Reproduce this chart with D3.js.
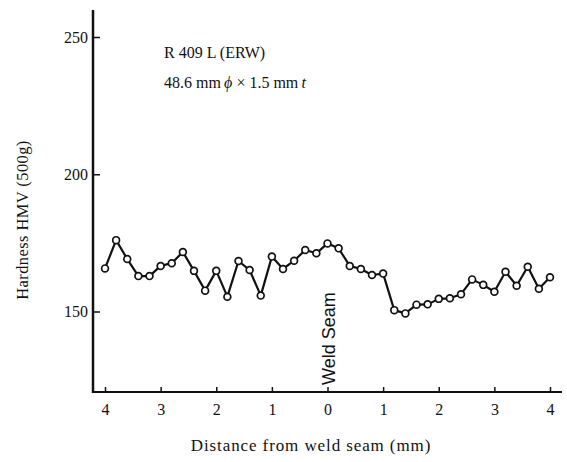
<!DOCTYPE html>
<html>
<head>
<script src="https://d3js.org/d3.v7.min.js"></script>
<style>
  body { margin: 0; background: #fff; }
  svg { display: block; }
  .serif { font-family: 'Liberation Serif', 'Times New Roman', serif; fill: #111; }
  .sans { font-family: 'Liberation Sans', Arial, sans-serif; fill: #111; }
</style>
</head>
<body>
<div id="chart"></div>
<script>
// distance from weld seam (mm), negative = left side
var distance = [-4, -3.8, -3.6, -3.4, -3.2, -3, -2.8, -2.6, -2.4, -2.2, -2,
                -1.8, -1.6, -1.4, -1.2, -1, -0.8, -0.6, -0.4, -0.2, 0,
                0.2, 0.4, 0.6, 0.8, 1, 1.2, 1.4, 1.6, 1.8, 2,
                2.2, 2.4, 2.6, 2.8, 3, 3.2, 3.4, 3.6, 3.8, 4];
// hardness HMV (500g)
var hardness = [165.7, 176.0, 169.1, 162.9, 162.9, 166.6, 167.6, 171.7, 164.8, 157.6, 164.8,
                155.4, 168.4, 165.1, 155.8, 170.0, 165.5, 168.5, 172.4, 171.2, 174.8,
                173.0, 166.6, 165.5, 163.3, 163.8, 150.5, 149.3, 152.5, 152.6, 154.6,
                154.8, 156.3, 161.7, 159.7, 157.2, 164.5, 159.4, 166.3, 158.3, 162.5];
var xTicks = [-4, -3, -2, -1, 0, 1, 2, 3, 4];
var yTicks = [150, 200, 250];

var W = 567, H = 462;
var axisX = 93, axisY = 392, axisTop = 10, axisRight = 562;

var svg = d3.select("#chart").append("svg")
    .attr("width", W).attr("height", H);

var x = d3.scaleLinear().domain([-4, 4]).range([105, 550]);
var y = d3.scaleLinear().domain([150, 250]).range([311.5, 37]);

// axes lines
svg.append("line")
    .attr("x1", axisX).attr("x2", axisX)
    .attr("y1", axisTop).attr("y2", axisY + 1)
    .attr("stroke", "#111").attr("stroke-width", 2.5);
svg.append("line")
    .attr("x1", axisX - 1).attr("x2", axisRight)
    .attr("y1", axisY).attr("y2", axisY)
    .attr("stroke", "#111").attr("stroke-width", 2);

// x axis ticks
var gx = svg.append("g")
    .attr("transform", "translate(0," + axisY + ")")
    .call(d3.axisBottom(x).tickValues(xTicks)
        .tickSizeInner(-5).tickSizeOuter(0).tickPadding(12)
        .tickFormat(function(d) { return Math.abs(d); }));
gx.select(".domain").remove();
gx.selectAll("line").attr("stroke", "#111").attr("stroke-width", 1.5);
gx.selectAll("text").attr("class", "serif").style("font-size", "16px")
    .attr("fill", "#111");

// y axis ticks
var gy = svg.append("g")
    .attr("transform", "translate(" + axisX + ",0)")
    .call(d3.axisLeft(y).tickValues(yTicks)
        .tickSizeInner(-7).tickSizeOuter(0).tickPadding(5));
gy.select(".domain").remove();
gy.selectAll("line").attr("stroke", "#111").attr("stroke-width", 1.5);
gy.selectAll("text").attr("class", "serif").style("font-size", "16px")
    .attr("fill", "#111");

// axis titles
svg.append("text").attr("class", "serif")
    .attr("x", 311).attr("y", 451)
    .attr("text-anchor", "middle")
    .style("font-size", "17px").style("letter-spacing", "0.9px")
    .text("Distance from weld seam (mm)");

svg.append("text").attr("class", "serif")
    .attr("transform", "translate(28,220) rotate(-90)")
    .attr("text-anchor", "middle")
    .style("font-size", "16.5px").style("letter-spacing", "0.4px")
    .text("Hardness HMV (500g)");

// annotation
var note = svg.append("text").attr("class", "serif")
    .attr("x", 164).style("font-size", "16px");
note.append("tspan").attr("x", 164).attr("y", 58).text("R 409 L (ERW)");
var l2 = note.append("tspan").attr("x", 164).attr("y", 88);
l2.append("tspan").text("48.6 mm\u2009");
l2.append("tspan").style("font-style", "italic").text("ϕ");
l2.append("tspan").text(" × 1.5 mm\u2009");
l2.append("tspan").style("font-style", "italic").text("t");

// weld seam label
svg.append("text").attr("class", "sans")
    .attr("transform", "translate(" + (x(0) + 7) + ",385) rotate(-90)")
    .style("font-size", "18px")
    .text("Weld Seam");

// data line
var line = d3.line()
    .x(function(d, i) { return x(distance[i]); })
    .y(function(d) { return y(d); });

svg.append("path")
    .datum(hardness)
    .attr("d", line)
    .attr("fill", "none")
    .attr("stroke", "#111")
    .attr("stroke-width", 2.2)
    .attr("stroke-linejoin", "round");

svg.selectAll("circle.pt")
    .data(hardness)
    .enter().append("circle")
    .attr("class", "pt")
    .attr("cx", function(d, i) { return x(distance[i]); })
    .attr("cy", function(d) { return y(d); })
    .attr("r", 3.4)
    .attr("fill", "#fff")
    .attr("stroke", "#111")
    .attr("stroke-width", 1.7);
</script>
</body>
</html>
